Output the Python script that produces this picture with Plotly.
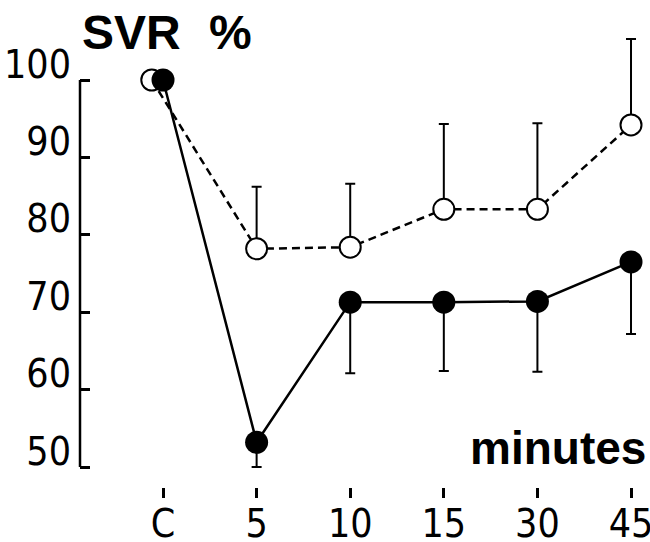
import plotly.graph_objects as go

# categories (time points)
categories = ["C", "5", "10", "15", "30", "45"]
cat_pos = [0, 1, 2, 3, 4, 5]

# open circles (dashed) series
open_x = [-0.12, 1, 2, 3, 4, 5]
open_vals = [100, 78.2, 78.4, 83.3, 83.3, 94.2]
open_err_up = [0, 8.0, 8.2, 11.0, 11.1, 11.1]

# filled circles (solid) series
filled_x = [0, 1, 2, 3, 4, 5]
filled_vals = [100, 53.2, 71.3, 71.3, 71.4, 76.5]
filled_err_down = [0, 3.2, 9.2, 8.9, 9.1, 9.3]

y_ticks = [50, 60, 70, 80, 90, 100]
y_ticklabels = ["50", "60", "70", "80", "90", "100"]

tick_font = dict(family="Liberation Sans Narrow, DejaVu Sans Condensed, sans-serif", size=39, color="black")

fig = go.Figure()

fig.add_trace(go.Scatter(
    x=open_x, y=open_vals, mode="lines+markers",
    line=dict(color="black", width=2.5, dash="8px,5px"),
    marker=dict(symbol="circle", size=21, color="white", line=dict(color="black", width=2)),
    error_y=dict(type="data", symmetric=False, array=open_err_up,
                 arrayminus=[0] * len(open_vals), color="black", thickness=2, width=5),
    cliponaxis=False, showlegend=False,
))

fig.add_trace(go.Scatter(
    x=filled_x, y=filled_vals, mode="lines+markers",
    line=dict(color="black", width=2.5),
    marker=dict(symbol="circle", size=23, color="black", line=dict(color="black", width=0)),
    error_y=dict(type="data", symmetric=False, array=[0] * len(filled_vals),
                 arrayminus=filled_err_down, color="black", thickness=2, width=5),
    cliponaxis=False, showlegend=False,
))

# y axis line only between 50 and 100
fig.add_shape(type="line", xref="paper", yref="y", x0=0, x1=0,
              y0=y_ticks[0], y1=y_ticks[-1], line=dict(color="black", width=2.5))

fig.update_layout(
    width=650, height=542,
    margin=dict(l=80, r=10, t=30, b=55),
    plot_bgcolor="white", paper_bgcolor="white",
    xaxis=dict(
        range=[-0.887, 5.096], tickvals=cat_pos, ticktext=categories,
        showgrid=False, zeroline=False, showline=False, automargin=False,
        ticks="outside", ticklen=10, tickwidth=3, tickcolor="black",
        tickfont=tick_font, ticklabelstandoff=-8, ticklabeloverflow="allow",
    ),
    yaxis=dict(
        range=[47.42, 106.46], tickvals=y_ticks, ticktext=y_ticklabels,
        showgrid=False, zeroline=False, showline=False, automargin=False,
        ticks="inside", ticklen=10, tickwidth=2.5, tickcolor="black",
        tickfont=tick_font, ticklabelshift=-16, ticklabelstandoff=8,
        ticklabeloverflow="allow",
    ),
    annotations=[
        dict(text="SVR", xref="paper", yref="paper", x=0.0, y=0.9956,
             xanchor="left", yanchor="middle", showarrow=False,
             font=dict(family="Liberation Sans, Arial, sans-serif", size=48, color="black", weight="bold")),
        dict(text="%", xref="paper", yref="paper", x=0.268, y=0.9956,
             xanchor="center", yanchor="middle", showarrow=False,
             font=dict(family="Liberation Sans Narrow, Liberation Sans, Arial, sans-serif", size=48, color="black", weight="bold")),
        dict(text="minutes", xref="paper", yref="paper", x=1.014, y=0.0864,
             xanchor="right", yanchor="middle", showarrow=False,
             font=dict(family="Liberation Sans, Arial, sans-serif", size=46, color="black", weight="bold")),
    ],
)

fig.write_html("out.html", config={"displayModeBar": False},
               post_script="document.body.style.margin='0';")
